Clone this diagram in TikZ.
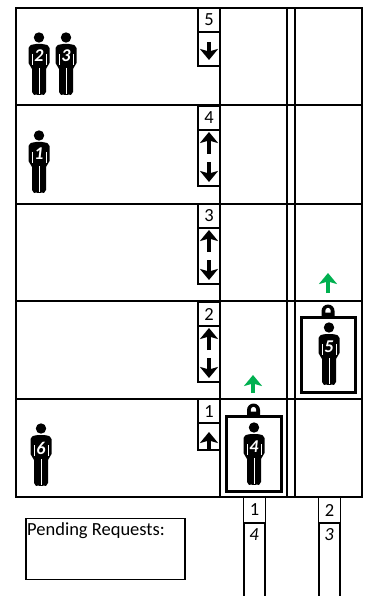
\documentclass[tikz,border=0pt]{standalone}
\usepackage{fontspec}
\setmainfont{Carlito}
\usetikzlibrary{arrows.meta}
\definecolor{upgreen}{RGB}{0,176,80}
\begin{document}
\begin{tikzpicture}[
  x=1pt, y=-1pt,
  font=\fontsize{18.5}{20}\selectfont,
  wall/.style={draw, line width=1.8pt},
  thin wall/.style={draw, line width=1.4pt},
  numbox/.style={draw, line width=1.4pt, minimum width=22pt, minimum height=24pt, inner sep=0pt, fill=white},
  cab/.style={draw, line width=3pt, fill=white},
  arr/.style={-{Stealth[length=11pt,width=18pt,inset=2.5pt]}, line width=4.6pt},
  greenarr/.style={arr, upgreen},
  tag/.style={text=white, inner sep=0pt, font=\fontsize{18}{18}\selectfont\bfseries\itshape},
  reqtext/.style={inner sep=0pt, font=\fontsize{18.5}{20}\selectfont\itshape},
  person/.pic={
    \fill (0,5.5) circle (5.2);
    \fill[rounded corners=2pt] (-10.5,14) -- (-5,12) -- (5,12) -- (10.5,14) -- (10.5,33) -- (7,35) -- (7,62) -- (3,63.5) -- (0,62) -- (-3,63.5) -- (-7,62) -- (-7,35) -- (-10.5,33) -- cycle;
    \draw[white, line width=0.6pt] (0,36) -- (0,62) (-7,22) -- (-7,33) (7,22) -- (7,33);
  },
  hook/.pic={
    \fill (-6.5,11) -- (-6.5,6) arc (180:360:6.5) -- (6.5,11) -- cycle;
    \fill[white] (-2.6,7.5) -- (-2.6,5.5) arc (180:360:2.6) -- (2.6,7.5) -- cycle;
  }]
\useasboundingbox (0,0) rectangle (366,596);
% floors and shafts
\draw[wall] (16,8) rectangle (362,497);
\foreach \y in {105,204,301,399} \draw[wall] (16,\y) -- (362,\y);
\draw[thin wall] (220,8) -- (220,497);
\draw[wall] (287,8) -- (287,497);
\draw[wall] (295,8) -- (295,497);
% floor numbers
\node[numbox] (num5) at (209,20) {5};
\node[numbox] (num4) at (209,118) {4};
\node[numbox] (num3) at (209,216) {3};
\node[numbox] (num2) at (209,314) {2};
\node[numbox] (num1) at (209,411.5) {1};
% call buttons
\draw[thin wall, fill=white] (198,32) rectangle (220,66);
\draw[thin wall, fill=white] (198,130) rectangle (220,186);
\draw[thin wall, fill=white] (198,228) rectangle (220,284);
\draw[thin wall, fill=white] (198,326) rectangle (220,382);
\draw[thin wall, fill=white] (198,423) rectangle (220,450);
\draw[arr] (209,42) -- (209,60);
\foreach \y in {130,228,326} {
  \draw[arr] (209,\y+24) -- (209,\y+2);
  \draw[arr] (209,\y+32) -- (209,\y+52);
}
\draw[arr] (209,449) -- (209,432);
% waiting people
\pic at (39,32) {person};
\node[tag] (p2) at (39,56) {2};
\pic at (66,32) {person};
\node[tag] (p3) at (66,56) {3};
\pic at (39,130) {person};
\node[tag] (p1) at (39,154) {1};
\pic at (41,423) {person};
\node[tag] (p6) at (41,448) {6};
% cars
\draw[cab] (226.5,416.5) rectangle (281.5,491.5);
\draw[cab] (301.5,317.5) rectangle (355.5,392.5);
\pic at (253.5,404) {hook};
\pic at (328,305) {hook};
\pic at (254,422) {person};
\node[tag] (p4) at (254,447) {4};
\pic at (329,322) {person};
\node[tag] (p5) at (329,347) {5};
\draw[greenarr] (253,393) -- (253,375);
\draw[greenarr] (328,293) -- (328,273);
% car panels below
\draw[thin wall] (244,497) -- (244,596) (265,497) -- (265,596);
\draw[thin wall] (319,497) -- (319,596) (340,497) -- (340,596);
\node[numbox, minimum height=26pt] (car1) at (254.5,510) {1};
\node[numbox, minimum height=26pt] (car2) at (329.5,510) {2};
\node[reqtext] (req1) at (254,535) {4};
\node[reqtext] (req2) at (329,535) {3};
% pending box
\node[draw, line width=1.6pt, minimum width=159pt, minimum height=61pt, anchor=north west] (pend) at (25,517.5) {};
\node[anchor=north west, inner sep=0pt] (pendtxt) at (27,522) {Pending Requests:};
\end{tikzpicture}
\end{document}
